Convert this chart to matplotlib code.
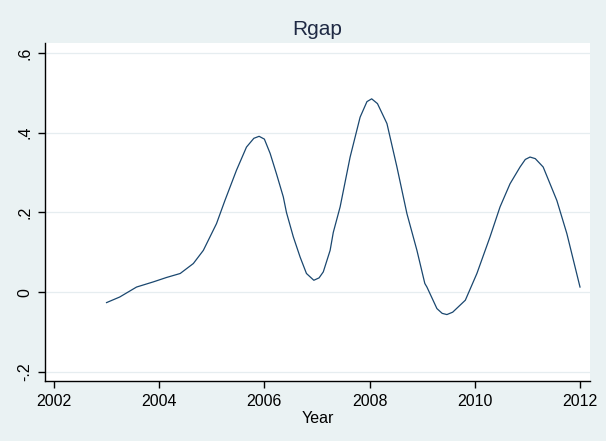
import matplotlib
matplotlib.use("Agg")
import matplotlib.pyplot as plt

plt.rcParams["font.family"] = ["Liberation Sans", "DejaVu Sans"]

years = [2003.0, 2003.25, 2003.57, 2003.89, 2004.14, 2004.40, 2004.65, 2004.84,
         2005.09, 2005.25, 2005.47, 2005.66, 2005.80, 2005.90, 2006.0, 2006.11,
         2006.23, 2006.36, 2006.42, 2006.55, 2006.68, 2006.80, 2006.94, 2007.04,
         2007.12, 2007.25, 2007.31, 2007.44, 2007.63, 2007.82, 2007.95, 2008.04,
         2008.15, 2008.33, 2008.52, 2008.71, 2008.90, 2009.05, 2009.09, 2009.28,
         2009.38, 2009.47, 2009.58, 2009.82, 2010.04, 2010.29, 2010.48, 2010.67,
         2010.86, 2010.96, 2011.05, 2011.15, 2011.30, 2011.56, 2011.75, 2012.0]
rgap = [-0.026, -0.012, 0.013, 0.026, 0.037, 0.047, 0.072, 0.105,
        0.172, 0.230, 0.306, 0.364, 0.386, 0.391, 0.384, 0.348,
        0.297, 0.239, 0.200, 0.139, 0.088, 0.047, 0.030, 0.036,
        0.051, 0.105, 0.150, 0.214, 0.339, 0.439, 0.478, 0.485,
        0.473, 0.423, 0.314, 0.197, 0.105, 0.022, 0.013, -0.041,
        -0.053, -0.056, -0.050, -0.020, 0.047, 0.139, 0.214, 0.272,
        0.314, 0.333, 0.339, 0.335, 0.314, 0.230, 0.147, 0.013]

xticks = [2002, 2004, 2006, 2008, 2010, 2012]
yticks = [-0.2, 0, 0.2, 0.4, 0.6]
ylabels = ["-.2", "0", ".2", ".4", ".6"]

bg = "#eaf2f3"
fig = plt.figure(figsize=(6.06, 4.41), dpi=100, facecolor=bg)
ax = fig.add_axes([45/606, 60/441, 545/606, 338/441])
ax.set_facecolor("white")

ax.plot(years, rgap, color="#1a476f", lw=0.9)

ax.set_xlim(2001.83, 2012.19)
ax.set_ylim(-0.2226, 0.625)
ax.set_xticks(xticks)
ax.set_xticklabels([str(t) for t in xticks])
ax.set_yticks(yticks)
ax.set_yticklabels(ylabels, rotation=90, va="center")
ax.yaxis.grid(True, color="#e6edf0", lw=0.9)
ax.set_axisbelow(True)

for s in ["top", "right"]:
    ax.spines[s].set_visible(False)
for s in ["left", "bottom"]:
    ax.spines[s].set_color("black")
    ax.spines[s].set_linewidth(1.0)

ax.tick_params(axis="both", direction="out", length=5, width=1, color="black",
               labelsize=11.5, labelcolor="black")
ax.tick_params(axis="y", pad=4)
ax.tick_params(axis="x", pad=4)

ax.set_xlabel("Year", fontsize=11.5, color="black", labelpad=2)
ax.set_title("Rgap", fontsize=15, color="#1f2a44", pad=6)

fig.savefig("out.png", dpi=100, facecolor=bg)
